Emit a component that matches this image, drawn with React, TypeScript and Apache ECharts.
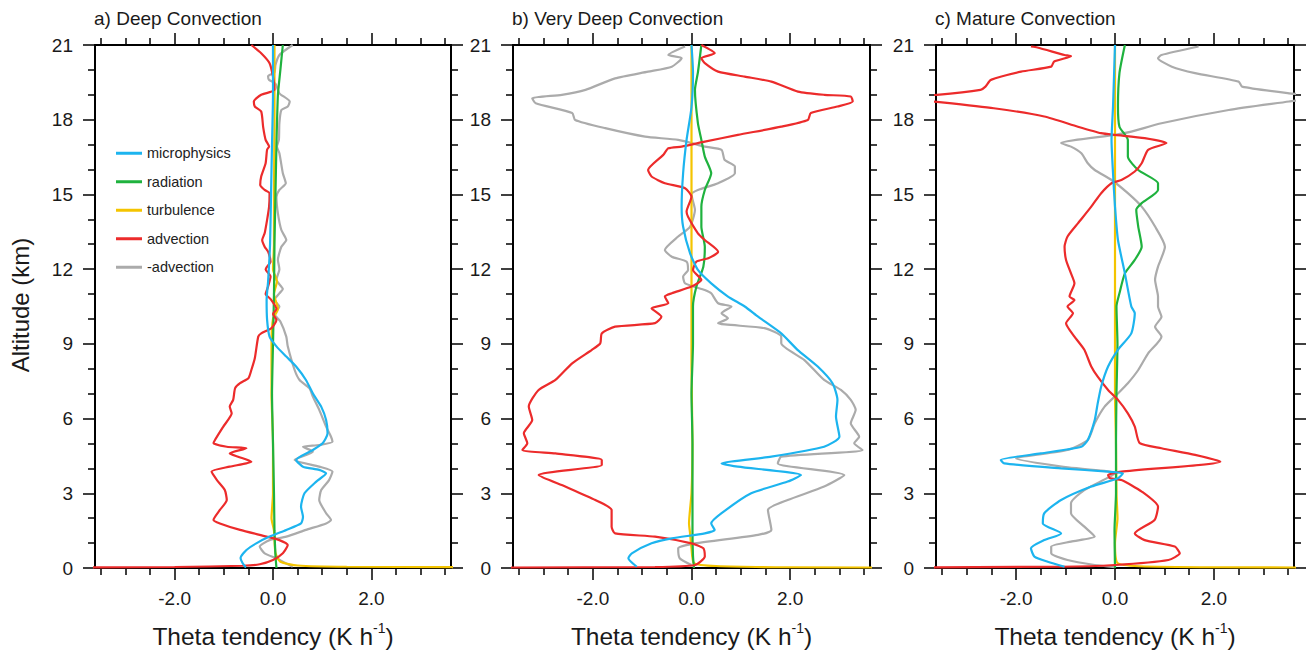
import React, { useEffect, useRef } from "react";
import * as echarts from "echarts";

// ---------- data: each point is [theta tendency (K/h), altitude (km)] ----------
const titles = ["a) Deep Convection", "b) Very Deep Convection", "c) Mature Convection"];
const seriesNames = ["microphysics", "radiation", "turbulence", "advection", "-advection"];
const yTicks = [0, 3, 6, 9, 12, 15, 18, 21];
const xMajorTicks = [-2, 0, 2];
const xMinorTicks = [-3.5, -3, -2.5, -1.5, -1, -0.5, 0.5, 1, 1.5, 2.5, 3, 3.5];

// Panel a
const microA = [[0.0,21],[0.0,19],[-0.02,17],[-0.04,15],[-0.06,13],[-0.1,11.5],[-0.13,10.76],[-0.12,9.96],[-0.07,9.29],[0.07,8.9],[0.27,8.49],[0.47,8.09],[0.67,7.55],[0.81,7.01],[0.98,6.48],[1.08,5.94],[1.11,5.41],[1.01,5.01],[0.81,4.74],[0.47,4.34],[0.61,4.07],[0.94,3.94],[1.08,3.8],[0.88,3.47],[0.64,3.0],[0.57,2.46],[0.61,2.06],[0.57,1.79],[0.27,1.53],[-0.07,1.26],[-0.34,0.99],[-0.54,0.72],[-0.66,0.4],[-0.62,0.2],[-0.55,0.02]];
const radA = [[0.2,21],[0.15,20],[0.1,19],[0.07,17],[0.05,15],[0.03,13],[0.02,11],[0.0,9],[-0.02,7],[0.0,5],[0.02,3],[0.03,1.5],[0.05,0.5],[0.07,0.0]];
const turbA = [[0.03,21],[0.03,18],[0.02,15],[0.02,13],[0.0,12],[0.08,11.5],[0.02,11],[0.1,10.4],[0.0,10],[-0.03,9],[-0.03,7],[0.0,5],[0.0,3],[-0.03,2],[0.02,1.5],[0.05,0.6],[0.15,0.25],[0.5,0.1],[1.5,0.05],[8,0.02]];
const advA = [[-0.44,21],[-0.24,20.67],[-0.07,20.27],[0.0,19.73],[0.03,19.2],[-0.24,19.0],[-0.39,18.73],[-0.37,18.53],[-0.24,18.33],[-0.2,17.7],[-0.15,17.19],[-0.08,16.92],[-0.12,16.8],[-0.15,16.25],[-0.24,15.72],[-0.26,15.38],[-0.17,15.18],[-0.07,15.05],[-0.08,14.5],[-0.12,13.98],[-0.17,13.44],[-0.22,13.17],[-0.17,12.9],[-0.1,12.7],[-0.05,12.3],[-0.15,12.0],[-0.05,11.7],[-0.1,11.3],[-0.15,11.0],[-0.05,10.8],[0.07,10.4],[0.0,10.2],[0.07,9.96],[-0.03,9.63],[-0.24,9.42],[-0.3,9.29],[-0.37,8.42],[-0.44,7.95],[-0.5,7.62],[-0.67,7.42],[-0.77,7.22],[-0.81,6.75],[-0.88,6.48],[-0.84,6.21],[-1.01,5.68],[-1.18,5.14],[-1.21,5.01],[-0.94,4.87],[-0.54,4.81],[-0.88,4.6],[-0.71,4.47],[-0.44,4.27],[-0.88,4.07],[-1.25,3.87],[-1.14,3.53],[-0.98,3.13],[-0.94,2.73],[-1.08,2.33],[-1.21,1.93],[-1.08,1.79],[-0.67,1.53],[-0.13,1.26],[0.13,1.12],[0.3,0.92],[0.2,0.59],[0.0,0.32],[-0.27,0.15],[-0.61,0.09],[-2.0,0.04],[-8,0.0]];
const negAdvA = [[0.4,21],[0.13,20.6],[0.05,20.2],[0.03,19.9],[-0.1,19.75],[-0.08,19.6],[0.05,19.45],[0.13,19.06],[0.34,18.73],[0.3,18.53],[0.17,18.39],[0.13,17.86],[0.12,17.2],[0.08,16.92],[0.13,16.65],[0.2,15.85],[0.26,15.45],[0.13,15.18],[0.07,14.9],[0.1,14.24],[0.17,13.57],[0.27,13.17],[0.17,12.9],[0.1,12.37],[0.13,12.0],[0.07,11.57],[0.2,11.2],[0.13,11.03],[0.03,10.76],[0.13,10.5],[0.03,10.2],[0.15,9.9],[0.27,9.29],[0.3,8.9],[0.44,7.95],[0.54,7.55],[0.74,7.22],[0.81,6.88],[0.94,6.35],[1.08,5.68],[1.18,5.27],[1.21,5.07],[0.94,4.94],[0.61,4.87],[0.81,4.67],[0.44,4.34],[0.94,4.07],[1.21,3.87],[1.14,3.53],[0.98,3.13],[0.94,2.73],[1.08,2.2],[1.18,1.93],[1.08,1.79],[0.67,1.53],[0.27,1.26],[-0.07,1.12],[-0.27,0.86],[-0.17,0.59],[0.07,0.39],[0.25,0.2],[0.4,0.05]];

// Panel b
const microB = [[0.0,21],[0.03,19.9],[0.0,18.5],[-0.1,17.19],[-0.17,15.85],[-0.2,14.51],[-0.17,13.7],[-0.03,12.64],[0.13,11.97],[0.4,11.43],[0.74,10.9],[1.08,10.5],[1.35,10.09],[1.82,9.42],[2.15,8.76],[2.56,8.09],[2.86,7.42],[2.96,6.75],[2.93,6.08],[3.0,5.27],[2.69,4.87],[1.62,4.47],[0.61,4.2],[0.94,4.07],[2.22,3.73],[1.95,3.47],[1.21,3.0],[0.61,2.2],[0.4,1.79],[0.47,1.53],[0.27,1.39],[-0.4,1.19],[-0.81,0.99],[-1.21,0.59],[-1.28,0.39],[-1.11,0.05]];
const radB = [[0.2,21],[0.13,19.9],[0.07,19.2],[0.13,17.86],[0.2,17.19],[0.27,16.52],[0.4,15.85],[0.27,15.18],[0.2,14.51],[0.2,13.7],[0.27,12.9],[0.24,12.1],[0.1,11.3],[0.03,10.5],[0.03,9],[0.0,7],[0.02,5],[0.02,3],[0.02,1.5],[0.03,0.5],[0.05,0.0]];
const turbB = [[0.0,21],[0.0,17],[0.0,13],[0.0,11],[0.0,8],[0.02,5],[0.0,3],[-0.05,1.8],[-0.03,1.4],[0.0,0.8],[0.05,0.2],[0.5,0.08],[2,0.03],[8,0.0]];
const advB = [[0.2,21],[0.47,20.67],[0.2,20.47],[0.27,20.27],[0.54,19.93],[1.08,19.73],[1.62,19.53],[2.16,19.13],[2.69,19.0],[3.23,18.93],[3.27,18.73],[2.96,18.53],[2.42,18.27],[2.36,17.99],[1.82,17.72],[0.94,17.39],[0.27,17.12],[-0.2,16.92],[-0.47,16.85],[-0.57,16.59],[-0.88,15.98],[-0.81,15.72],[-0.54,15.45],[-0.13,15.25],[0.0,14.91],[-0.1,14.31],[-0.07,14.1],[0.13,13.44],[0.27,13.17],[0.54,12.7],[0.34,12.44],[0.1,12.3],[0.03,11.97],[0.2,11.57],[0.0,11.3],[-0.4,11.03],[-0.54,10.9],[-0.47,10.63],[-0.81,10.43],[-0.61,10.09],[-0.74,9.83],[-1.55,9.69],[-1.82,9.42],[-1.85,9.02],[-2.02,8.76],[-2.42,8.22],[-2.76,7.55],[-3.1,7.15],[-3.3,6.48],[-3.23,5.94],[-3.4,5.41],[-3.33,5.01],[-3.43,4.74],[-2.76,4.6],[-1.82,4.34],[-1.82,4.14],[-3.1,3.73],[-2.56,3.27],[-1.95,2.73],[-1.62,2.33],[-1.62,1.66],[-1.55,1.39],[-0.74,1.26],[0.0,0.99],[0.24,0.79],[0.27,0.46],[0.07,0.12],[-0.74,0.04],[-8,0.0]];
const negAdvB = [[-0.13,20.94],[-0.47,20.6],[-0.2,20.47],[-0.4,20.13],[-0.88,19.93],[-1.55,19.66],[-2.15,19.2],[-2.63,19.0],[-3.23,18.86],[-3.16,18.66],[-2.42,18.27],[-2.36,17.99],[-1.75,17.66],[-0.94,17.32],[-0.27,17.19],[0.27,16.92],[0.61,16.79],[0.67,16.39],[0.88,16.12],[0.88,15.85],[0.54,15.45],[0.13,15.18],[0.0,15.0],[0.07,14.38],[-0.03,13.7],[-0.27,13.31],[-0.54,12.77],[-0.4,12.5],[-0.1,12.3],[-0.07,11.97],[-0.17,11.7],[-0.13,11.43],[0.27,11.16],[0.4,11.03],[0.54,10.63],[0.81,10.5],[0.61,10.23],[0.74,10.03],[0.54,9.83],[1.48,9.63],[1.82,9.29],[1.82,9.02],[2.29,8.35],[2.69,7.55],[3.03,7.15],[3.23,6.75],[3.33,6.35],[3.23,5.81],[3.4,5.27],[3.3,5.01],[3.47,4.74],[1.82,4.47],[1.75,4.2],[3.1,3.73],[2.69,3.27],[1.95,2.73],[1.55,2.33],[1.62,1.53],[1.35,1.33],[0.07,0.99],[-0.27,0.79],[-0.24,0.39],[0.0,0.12]];

// Panel c
const microC = [[0.0,21],[-0.04,18.53],[-0.07,17.19],[-0.04,15.85],[0.0,14.51],[0.06,13.17],[0.2,11.83],[0.33,10.5],[0.4,10.23],[0.33,9.42],[0.06,8.76],[-0.14,8.09],[-0.28,7.28],[-0.35,6.61],[-0.41,5.94],[-0.55,5.14],[-0.68,4.87],[-1.5,4.6],[-2.31,4.34],[-2.24,4.2],[-1.09,4.0],[-0.14,3.87],[0.16,3.8],[0.06,3.6],[-0.48,3.27],[-1.09,2.73],[-1.43,2.2],[-1.46,1.79],[-1.09,1.39],[-1.43,1.12],[-1.7,0.79],[-1.63,0.46],[-1.36,0.25],[-1.02,0.05]];
const radC = [[0.2,21],[0.09,19.87],[0.06,18.53],[0.09,17.72],[0.26,17.19],[0.26,16.52],[0.47,15.98],[0.87,15.45],[0.87,15.18],[0.54,14.65],[0.43,14.38],[0.47,13.71],[0.54,12.9],[0.4,12.37],[0.2,11.83],[0.09,11.03],[0.03,10.5],[0.05,9],[0.03,7],[0.02,5],[0.02,3],[-0.01,1.5],[0.0,0.0]];
const turbC = [[0.0,21],[0.0,15],[0.0,10],[0.0,7],[0.02,5],[0.03,3],[0.05,2],[0.0,1],[0.05,0.2],[0.5,0.07],[2,0.03],[8,0.0]];
const advC = [[-1.7,20.94],[-1.57,20.9],[-1.02,20.6],[-0.89,20.55],[-1.23,20.34],[-1.29,20.13],[-1.9,19.93],[-2.51,19.6],[-2.62,19.33],[-2.72,19.2],[-3.6,19.0],[-4.5,18.9],[-3.67,18.73],[-2.45,18.46],[-1.43,18.13],[-0.75,17.72],[-0.28,17.46],[0.0,17.39],[0.6,17.26],[1.04,17.06],[0.67,16.79],[0.54,16.25],[0.4,15.92],[0.13,15.58],[-0.07,15.45],[-0.28,15.05],[-0.48,14.51],[-0.75,13.84],[-0.96,13.31],[-1.02,12.9],[-0.99,12.37],[-0.89,11.83],[-0.82,11.43],[-0.92,10.9],[-0.82,10.76],[-0.96,10.5],[-0.85,10.23],[-0.99,9.83],[-0.82,9.29],[-0.62,8.76],[-0.48,8.09],[-0.35,7.68],[-0.14,7.15],[0.06,6.75],[0.26,6.21],[0.4,5.68],[0.5,5.01],[0.94,4.81],[1.62,4.54],[2.13,4.27],[0.13,3.87],[-0.14,3.73],[-0.1,3.6],[0.13,3.53],[0.54,3.07],[0.87,2.46],[0.8,1.93],[0.4,1.39],[0.6,1.12],[1.21,0.86],[1.31,0.59],[1.08,0.32],[0.0,0.12],[-1.09,0.05],[-8,0.0]];
const negAdvC = [[1.69,20.94],[0.94,20.6],[0.87,20.47],[1.15,20.13],[1.62,19.87],[2.5,19.53],[2.57,19.33],[3.52,19.06],[4.2,18.93],[3.52,18.73],[2.3,18.39],[0.94,17.86],[0.33,17.52],[0.0,17.39],[-1.09,17.06],[-0.89,16.92],[-0.68,16.65],[-0.55,16.25],[-0.41,15.98],[-0.07,15.58],[0.26,15.05],[0.54,14.51],[0.81,13.71],[1.01,12.9],[0.87,12.1],[0.81,11.57],[0.87,10.9],[0.87,10.5],[0.94,10.09],[0.81,9.69],[0.94,9.29],[0.67,8.62],[0.47,7.95],[0.26,7.42],[0.06,7.01],[-0.21,6.48],[-0.41,5.81],[-0.55,5.14],[-0.96,4.74],[-2.0,4.4],[-1.0,4.05],[0.0,3.8],[-0.62,3.13],[-0.89,2.6],[-0.89,2.2],[-0.62,1.66],[-0.41,1.26],[-0.89,1.06],[-1.29,0.86],[-1.29,0.59],[-0.96,0.32],[-0.41,0.12],[0.0,0.03]];

const panelData = [
  { micro: microA, rad: radA, turb: turbA, adv: advA, neg: negAdvA },
  { micro: microB, rad: radB, turb: turbB, adv: advB, neg: negAdvB },
  { micro: microC, rad: radC, turb: turbC, adv: advC, neg: negAdvC },
];

// ---------- style / layout ----------
const FONT = "'Liberation Sans', Arial, Helvetica, sans-serif";
const TEXT = "#1a1a1a";
const COLORS: Record<string, string> = {
  microphysics: "#1CB4EF",
  radiation: "#1FB23E",
  turbulence: "#F4C400",
  advection: "#EC2B2B",
  "-advection": "#ABABAB",
};
const GRIDS = [
  { left: 95, width: 356 },
  { left: 513, width: 357 },
  { left: 936, width: 358 },
];
const GRID_TOP = 45;
const GRID_H = 523;
const XMIN = -3.62;
const XMAX = 3.62;

function buildOption() {
  const grid = GRIDS.map((g) => ({ left: g.left, width: g.width, top: GRID_TOP, height: GRID_H, containLabel: false }));
  const xAxis: any[] = [];
  const yAxis: any[] = [];
  const series: any[] = [];
  const graphic: any[] = [];
  const tickColor = "#000";

  GRIDS.forEach((g, gi) => {
    const base = { gridIndex: gi, type: "value", min: XMIN, max: XMAX, splitLine: { show: false } };
    for (const pos of ["bottom", "top"]) {
      xAxis.push({
        ...base,
        position: pos,
        axisLine: { show: true, onZero: false, lineStyle: { color: tickColor, width: 2 } },
        axisTick: { show: true, inside: false, length: 12, customValues: xMajorTicks, lineStyle: { color: tickColor, width: 1.5 } },
        axisLabel: pos === "bottom"
          ? { show: true, customValues: xMajorTicks, formatter: (v: number) => v.toFixed(1), fontSize: 19, color: TEXT, margin: 21, fontFamily: FONT }
          : { show: false },
      });
      xAxis.push({
        ...base,
        position: pos,
        axisLine: { show: false, onZero: false },
        axisTick: { show: true, inside: false, length: 7, customValues: xMinorTicks, lineStyle: { color: tickColor, width: 1.5 } },
        axisLabel: { show: false },
      });
    }
    for (const pos of ["left", "right"]) {
      yAxis.push({
        gridIndex: gi,
        type: "value",
        position: pos,
        min: 0,
        max: 21,
        interval: 3,
        splitLine: { show: false },
        minorSplitLine: { show: false },
        axisLine: { show: true, onZero: false, lineStyle: { color: tickColor, width: 2 } },
        axisTick: { show: true, inside: false, length: 12, lineStyle: { color: tickColor, width: 1.5 } },
        minorTick: { show: true, splitNumber: 3, length: 7, lineStyle: { color: tickColor, width: 1.5 } },
        axisLabel: pos === "left"
          ? { show: true, fontSize: 19, color: TEXT, margin: 22, fontFamily: FONT, customValues: yTicks }
          : { show: false },
      });
    }

    const d = panelData[gi];
    const order: [string, any][] = [
      ["-advection", d.neg],
      ["turbulence", d.turb],
      ["radiation", d.rad],
      ["advection", d.adv],
      ["microphysics", d.micro],
    ];
    order.forEach(([name, data]) => {
      series.push({
        type: "line",
        name,
        xAxisIndex: gi * 4,
        yAxisIndex: gi * 2,
        data,
        symbol: "none",
        showSymbol: false,
        smooth: 0.2,
        clip: true,
        silent: true,
        lineStyle: { color: COLORS[name], width: 2.2 },
        itemStyle: { color: COLORS[name] },
      });
    });

    const zeroX = g.left + (g.width * (0 - XMIN)) / (XMAX - XMIN);
    graphic.push({
      type: "text",
      left: g.left - 1,
      top: 9,
      style: { text: titles[gi], fontSize: 19, fill: TEXT, fontFamily: FONT },
    });
    graphic.push({
      type: "text",
      x: zeroX,
      y: 635,
      style: {
        text: "{n|Theta tendency (K h}{s|-1}{n|)}",
        align: "center",
        verticalAlign: "middle",
        fill: TEXT,
        fontFamily: FONT,
        rich: {
          n: { fontSize: 24.5, lineHeight: 28, fontFamily: FONT, fill: TEXT, verticalAlign: "bottom" },
          s: { fontSize: 14, lineHeight: 14, fontFamily: FONT, fill: TEXT, verticalAlign: "top" },
        },
      },
    });
  });

  graphic.push({
    type: "text",
    x: 20,
    y: 305,
    rotation: Math.PI / 2,
    style: { text: "Altitude (km)", fontSize: 24, align: "center", verticalAlign: "middle", fill: TEXT, fontFamily: FONT },
  });

  return {
    animation: false,
    backgroundColor: "#ffffff",
    grid,
    xAxis,
    yAxis,
    series,
    graphic,
    legend: {
      data: seriesNames,
      orient: "vertical",
      left: 116,
      top: 145,
      padding: 0,
      icon: "rect",
      itemWidth: 26,
      itemHeight: 3,
      itemGap: 12,
      selectedMode: false,
      textStyle: { fontSize: 14.5, color: "#222", fontFamily: FONT, lineHeight: 16.5 },
    },
  };
}

export default function App() {
  const ref = useRef<HTMLDivElement>(null);
  useEffect(() => {
    if (!ref.current) return;
    const chart = echarts.init(ref.current, undefined, { renderer: "svg" });
    chart.setOption(buildOption() as any);
    return () => chart.dispose();
  }, []);
  return (
    <div
      ref={ref}
      style={{ position: "absolute", left: 0, top: 0, width: 1310, height: 652, background: "#fff" }}
    />
  );
}
